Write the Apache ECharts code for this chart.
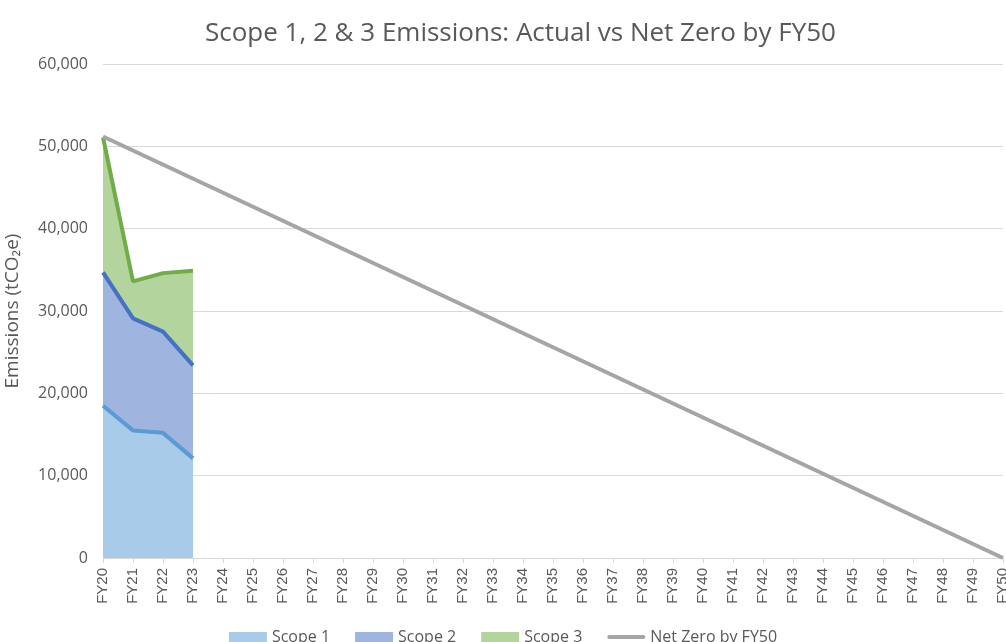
<!DOCTYPE html>
<html>
<head>
<meta charset="utf-8">
<script src="https://cdn.jsdelivr.net/npm/echarts@6/dist/echarts.min.js"></script>
<style>html,body{margin:0;padding:0;background:#fff}#c{width:1006px;height:642px}</style>
</head>
<body>
<div id="c"></div>
<script>
const categories = ['FY20','FY21','FY22','FY23','FY24','FY25','FY26','FY27','FY28','FY29','FY30','FY31','FY32','FY33','FY34','FY35','FY36','FY37','FY38','FY39','FY40','FY41','FY42','FY43','FY44','FY45','FY46','FY47','FY48','FY49','FY50'];
const scope1 = [18500, 15500, 15200, 12100];
const scope2 = [16200, 13600, 12300, 11300];
const scope3 = [16400, 4500, 7100, 11500];
// Net zero target: start (FY20) and end (FY50) points only, joined by a straight line
const netZeroStart = 51200;
const netZeroEnd = 0;
const yTicks = { min: 0, max: 60000, interval: 10000 };

const pad = arr => categories.map((c, i) => (i < arr.length ? arr[i] : null));
const netZero = categories.map((c, i) => (i === 0 ? netZeroStart : (i === categories.length - 1 ? netZeroEnd : null)));

const font = 'Open Sans';
const txt = '#595959';

const chart = echarts.init(document.getElementById('c'), null, { renderer: 'canvas' });
chart.setOption({
  animation: false,
  title: {
    text: 'Scope 1, 2 & 3 Emissions: Actual vs Net Zero by FY50',
    left: 200, top: 16,
    textStyle: { fontFamily: font, fontSize: 26, fontWeight: 'normal', color: txt }
  },
  legend: {
    left: 'center', top: 629, padding: 0,
    itemWidth: 38, itemHeight: 10, itemGap: 25,
    textStyle: { fontFamily: font, fontSize: 16, color: txt },
    data: [
      { name: 'Scope 1', icon: 'rect', itemStyle: { color: '#a9cbea' } },
      { name: 'Scope 2', icon: 'rect', itemStyle: { color: '#9fb5e0' } },
      { name: 'Scope 3', icon: 'rect', itemStyle: { color: '#b4d49e' } },
      { name: 'Net Zero by FY50', icon: 'path://M2,0 L36,0 A2,2 0 0 1 36,4 L2,4 A2,2 0 0 1 2,0 Z', itemStyle: { color: '#a5a5a5' } }
    ]
  },
  grid: { left: 103, right: 3, top: 64, bottom: 84, containLabel: false, outerBoundsMode: 'none' },
  xAxis: {
    type: 'category', data: categories, boundaryGap: false,
    axisLine: { lineStyle: { color: '#d9d9d9', width: 1 } },
    axisTick: { show: true, length: 5, lineStyle: { color: '#d9d9d9' } },
    axisLabel: { rotate: 90, margin: 10, fontFamily: 'Liberation Sans', fontSize: 15, color: txt, interval: 0, hideOverlap: false }
  },
  yAxis: {
    type: 'value', min: yTicks.min, max: yTicks.max, interval: yTicks.interval,
    name: 'Emissions (tCO₂e)', nameLocation: 'middle', nameGap: 81, nameRotate: 90,
    nameTextStyle: { fontFamily: font, fontSize: 19, color: txt },
    axisLine: { show: false }, axisTick: { show: false },
    splitLine: { lineStyle: { color: '#d9d9d9', width: 1 } },
    axisLabel: {
      margin: 15, fontFamily: font, fontSize: 16, color: txt,
      formatter: v => v.toLocaleString('en-US')
    }
  },
  series: [
    {
      name: 'Scope 1', type: 'line', stack: 'total', data: pad(scope1), symbol: 'none',
      lineStyle: { color: '#5b9bd5', width: 4 }, itemStyle: { color: '#5b9bd5' },
      areaStyle: { color: '#a9cbea', opacity: 1 }, z: 3
    },
    {
      name: 'Scope 2', type: 'line', stack: 'total', data: pad(scope2), symbol: 'none',
      lineStyle: { color: '#4472c4', width: 4 }, itemStyle: { color: '#4472c4' },
      areaStyle: { color: '#9fb5e0', opacity: 1 }, z: 2
    },
    {
      name: 'Scope 3', type: 'line', stack: 'total', data: pad(scope3), symbol: 'none',
      lineStyle: { color: '#70ad47', width: 4 }, itemStyle: { color: '#70ad47' },
      areaStyle: { color: '#b4d49e', opacity: 1 }, z: 1
    },
    {
      name: 'Net Zero by FY50', type: 'line', data: netZero, connectNulls: true, symbol: 'none',
      lineStyle: { color: '#a5a5a5', width: 4 }, itemStyle: { color: '#a5a5a5' }, z: 4
    }
  ]
});
</script>
</body>
</html>
